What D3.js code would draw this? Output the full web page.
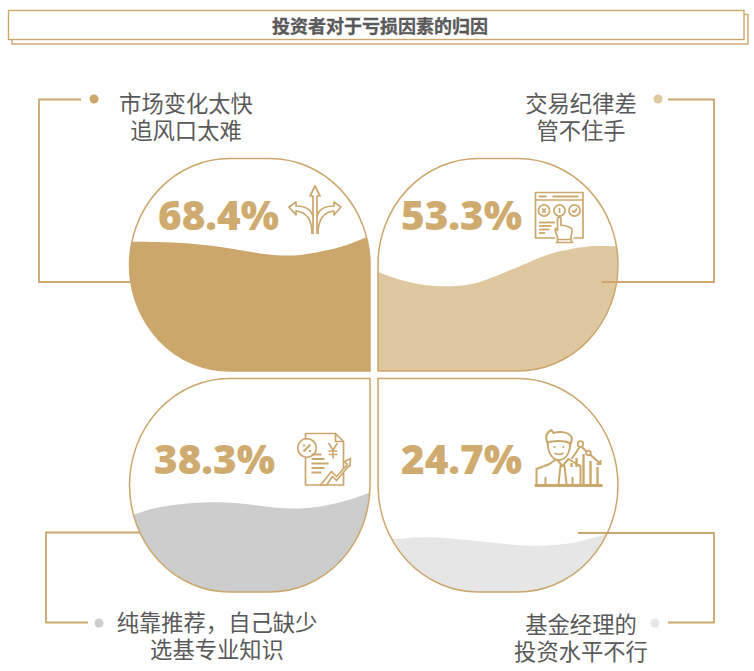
<!DOCTYPE html>
<html>
<head>
<meta charset="utf-8">
<script src="https://cdn.jsdelivr.net/npm/d3@7"></script>
<style>
  html, body { margin: 0; padding: 0; background: #fff; }
  svg { display: block; }
  text { font-family: "Noto Sans CJK SC", sans-serif; }
</style>
</head>
<body>
<script>
// THE DATA

const title = "投资者对于亏损因素的归因";
const values = [68.4, 53.3, 38.3, 24.7];
const labels = [
  ["市场变化太快", "追风口太难"],
  ["交易纪律差", "管不住手"],
  ["纯靠推荐，自己缺少", "选基专业知识"],
  ["基金经理的", "投资水平不行"]
];
// wave top: % of panel height at each stop across the panel
const waveStops = [0, 0.1, 0.2, 0.3, 0.4, 0.5, 0.6, 0.7, 0.8, 0.9, 1];
const waveA = [60.8, 60.7, 60.3, 59.4, 58.0, 56.1, 54.6, 54.5, 56.3, 59.2, 63.8];
const waveB = [46.6, 42.7, 40.4, 39.9, 41.2, 45.1, 49.8, 54.5, 57.3, 58.8, 58.7];
const waveC = [35.5, 39.1, 41.0, 41.9, 41.9, 41.0, 39.6, 39.1, 40.2, 42.7, 46.6];
const waveD = [24.3, 25.1, 25.6, 25.1, 24.0, 22.8, 21.8, 21.8, 22.8, 25.4, 29.0];
const waves = [waveA, waveB, waveC, waveD];

// MAKE THE CHART

const W = 754;
const H = 671;
const gold = "#cba76c";
const textGrey = "#595959";
const fills = ["#cba76c", "#dfc7a0", "#cdcdcd", "#e6e6e6"];

const svg = d3.select("body")
  .append("svg")
  .attr("width", W)
  .attr("height", H);

// title boxes
svg.append("rect")
  .attr("x", 12).attr("y", 14.5)
  .attr("width", 736).attr("height", 29.5)
  .attr("fill", "#fff").attr("stroke", gold).attr("stroke-width", 1.4);
svg.append("rect")
  .attr("x", 8.5).attr("y", 10.5)
  .attr("width", 735.5).attr("height", 29)
  .attr("fill", "#fff").attr("stroke", gold).attr("stroke-width", 1.4);
svg.append("text")
  .text(title)
  .attr("x", 380).attr("y", 32.5)
  .attr("text-anchor", "middle")
  .attr("fill", textGrey)
  .attr("stroke", textGrey)
  .attr("stroke-width", 0.3)
  .style("font-size", "18px")
  .style("font-weight", 700);

// panels: which corner stays square is what makes them differ
const panels = [
  { x0: 129.5, x1: 370, y0: 158.5, y1: 371, square: "br" },
  { x0: 378, x1: 618, y0: 158.5, y1: 371, square: "bl" },
  { x0: 129.5, x1: 370, y0: 378.5, y1: 592, square: "tr" },
  { x0: 378, x1: 618, y0: 378.5, y1: 592, square: "tl" }
];

function panelPath(p) {
  const rx = 100;
  const ry = (p.y1 - p.y0) / 2;
  const tl = p.square === "tl", tr = p.square === "tr", br = p.square === "br", bl = p.square === "bl";
  let d = tl ? `M${p.x0},${p.y0}` : `M${p.x0},${p.y0 + ry} A${rx},${ry} 0 0 1 ${p.x0 + rx},${p.y0}`;
  d += tr ? ` L${p.x1},${p.y0}` : ` L${p.x1 - rx},${p.y0} A${rx},${ry} 0 0 1 ${p.x1},${p.y0 + ry}`;
  d += br ? ` L${p.x1},${p.y1}` : ` L${p.x1},${p.y1 - ry} A${rx},${ry} 0 0 1 ${p.x1 - rx},${p.y1}`;
  d += bl ? ` L${p.x0},${p.y1}` : ` L${p.x0 + rx},${p.y1} A${rx},${ry} 0 0 1 ${p.x0},${p.y1 - ry}`;
  return d + " Z";
}

const defs = svg.append("defs");

panels.forEach((p, i) => {
  const xScale = d3.scaleLinear().domain([0, 1]).range([p.x0, p.x1]);
  const yScale = d3.scaleLinear().domain([0, 100]).range([p.y1, p.y0]);

  defs.append("clipPath").attr("id", "clip" + i)
    .append("path").attr("d", panelPath(p));

  const area = d3.area()
    .x(d => xScale(d[0]))
    .y0(p.y1)
    .y1(d => yScale(d[1]))
    .curve(d3.curveCatmullRom);

  svg.append("path")
    .attr("d", panelPath(p))
    .attr("fill", "#fff");

  svg.append("path")
    .datum(d3.zip(waveStops, waves[i]))
    .attr("d", area)
    .attr("fill", fills[i])
    .attr("clip-path", `url(#clip${i})`);

  svg.append("path")
    .attr("d", panelPath(p))
    .attr("fill", "none")
    .attr("stroke", gold)
    .attr("stroke-width", 1.5);
});

// connectors from the labels to the panels
const connectors = [
  [[81, 99.5], [39, 99.5], [39, 282], [130, 282]],
  [[668, 99.5], [714, 99.5], [714, 282], [602, 282]],
  [[88, 622.5], [46, 622.5], [46, 532.5], [140, 532.5]],
  [[668, 622.5], [714, 622.5], [714, 533], [578, 533]]
];
const connectorLine = d3.line();
svg.selectAll(".connector")
  .data(connectors)
  .enter()
  .append("path")
  .attr("class", "connector")
  .attr("d", connectorLine)
  .attr("fill", "none")
  .attr("stroke", gold)
  .attr("stroke-width", 1.8);

// dots
const dotPos = [[94, 99], [658, 99], [99, 623], [655, 623]];
svg.selectAll(".dot")
  .data(dotPos)
  .enter()
  .append("circle")
  .attr("class", "dot")
  .attr("cx", d => d[0])
  .attr("cy", d => d[1])
  .attr("r", 4.5)
  .attr("fill", (d, i) => fills[i]);

// label text
const labelPos = [
  { x: 186, y: 112 }, { x: 581, y: 112 },
  { x: 217, y: 631 }, { x: 581, y: 633 }
];
labels.forEach((lines, i) => {
  const label = svg.append("text")
    .attr("text-anchor", "middle")
    .attr("fill", textGrey)
    .style("font-size", "22.3px");
  lines.forEach((line, j) => {
    label.append("tspan")
      .text(line)
      .attr("x", labelPos[i].x)
      .attr("y", labelPos[i].y + j * 27);
  });
});

// percentages
const pctPos = [[158, 230], [401, 230], [154, 474], [401, 474]];
svg.selectAll(".pct")
  .data(values)
  .enter()
  .append("text")
  .attr("class", "pct")
  .text(d => d.toFixed(1) + "%")
  .attr("x", (d, i) => pctPos[i][0])
  .attr("y", (d, i) => pctPos[i][1])
  .attr("fill", "#cfab6f")
  .style("font-family", '"Open Sans", sans-serif')
  .style("font-weight", 800)
  .style("font-size", "40.4px");

// icons
function icon(x, y) {
  return svg.append("g")
    .attr("transform", `translate(${x},${y})`)
    .attr("fill", "none")
    .attr("stroke", gold)
    .attr("stroke-width", 1.7)
    .attr("stroke-linejoin", "round");
}

// forked arrows
const forkIcon = icon(315, 210);
forkIcon.append("path").attr("d", "M-2,24 V-14 H-5 L0,-24 L5,-14 H2 V24");
forkIcon.append("path").attr("d", "M-3,24 C-3,10 -8,2 -19,1 V5 L-26,-3 L-19,-8 V-4 C-10,-4 -4,-1 -2,6");
forkIcon.append("path").attr("d", "M3,24 C3,10 8,2 19,1 V5 L26,-3 L19,-8 V-4 C10,-4 4,-1 2,6");

// window with buttons and a pointing hand
const windowIcon = icon(535.5, 192.5);
windowIcon.append("path").attr("d", "M20,45.5 H0 V0 H47.5 V45.5 H38 M0,7.5 H47.5");
windowIcon.append("path").attr("d", "M3,4 H11 M17,4 H43").attr("stroke-width", 2);
[8.5, 24, 39].forEach(cx => {
  windowIcon.append("circle").attr("cx", cx).attr("cy", 18).attr("r", 5.6);
});
windowIcon.append("path").attr("d", "M6.5,16 L10.5,20 M10.5,16 L6.5,20 M24,15.5 V20.5 M36.5,18 L38.5,20 L41.5,16");
[[3.5, 19.5, 30], [3.5, 16, 33.5], [3.5, 14, 37], [3.5, 9.5, 40.5]].forEach(d => {
  windowIcon.append("path").attr("d", `M${d[0]},${d[2]} H${d[1]}`).attr("stroke-width", 1.8);
});
windowIcon.append("path")
  .attr("fill", "#fff")
  .attr("d", "M22,44 C20,40 19,38 20,36 L22,38 V27 C22,24 25.5,24 25.5,27 V33 L29,33 L32,34 L35,35 C37,36 36.5,41 35.5,44 V47 H22 Z");
windowIcon.append("path").attr("d", "M20,50 H38 M22,47 V50 M36,47 V50");

// document with percent, yen and rising arrow
const docIcon = icon(305.5, 433.5);
docIcon.append("path").attr("d", "M0,8 V0 H30 L38,8 V51.5 H0 V19 M30,0 V8 H38");
docIcon.append("circle").attr("cx", 1.5).attr("cy", 14.5).attr("r", 9.3).attr("fill", "#fff");
docIcon.append("path").attr("d", "M-2,18 L5,11 M-2.5,12 H-0.5 M3.5,17.5 H5.5").attr("stroke-width", 2);
docIcon.append("path").attr("d", "M23,9.5 L27.5,16.5 L32,9.5 M27.5,16.5 V25 M23,17.5 H32 M23,21 H32").attr("stroke-width", 1.6);
[[10, 11], [13, 15.5], [17, 20], [13, 24.5], [10, 29]].forEach(d => {
  docIcon.append("path").attr("d", `M6,${d[1] + 10} H${6 + d[0]}`).attr("stroke-width", 2);
});
docIcon.append("path")
  .attr("fill", "#fff")
  .attr("d", "M15,51.5 L26,38 L31,43 L42,31 L39,28 L45,25 L44.5,32 L42,34 L31,47 L27,43 L21,51.5 Z");

// advisor with bar chart
const advisorIcon = icon(534.5, 430);
advisorIcon.append("path").attr("d", "M0,55.5 H68").attr("stroke-width", 3);
advisorIcon.append("path").attr("d", "M2,54 V39 L15,34 L22,29 L28,36 L34,29 L42,34 L46,36 V54").attr("fill", "#fff").attr("stroke-width", 2);
advisorIcon.append("path").attr("d", "M24,54 L26,36 H30 L32,54 M11,54 V47 M38,54 V47").attr("stroke-width", 2);
advisorIcon.append("path").attr("d", "M13,9 C13,22 17,30 24.5,30 C32,30 36,22 36,9").attr("fill", "#fff").attr("stroke-width", 2);
advisorIcon.append("path").attr("d", "M13,13 C10,6 13,2 17,0 L19,3 C26,1 34,2 37,7 C38,10 37,12 36,14 C33,11 28,11 24,11 C20,11 16,11 13,13 Z").attr("fill", "#fff").attr("stroke-width", 2);
advisorIcon.append("path").attr("d", "M20,16 V18 M29,16 V18 M20,23 C23,25 26,25 29,23").attr("stroke-width", 1.6);
advisorIcon.append("path").attr("d", "M37,29 L46,16 L54,23 L65,33 M62,34 L66,34 L66,30").attr("stroke-width", 2);
advisorIcon.append("circle").attr("cx", 46).attr("cy", 14).attr("r", 2.8).attr("fill", "#fff");
advisorIcon.append("circle").attr("cx", 54).attr("cy", 23).attr("r", 2.3).attr("fill", "#fff");
[[37, 33, 37], [42, 28, 37], [49, 24, 54], [56, 31, 54], [63, 37, 54]].forEach(d => {
  advisorIcon.append("path").attr("d", `M${d[0]},${d[1]} V${d[2]}`).attr("stroke-width", 2.4);
});
</script>
</body>
</html>
